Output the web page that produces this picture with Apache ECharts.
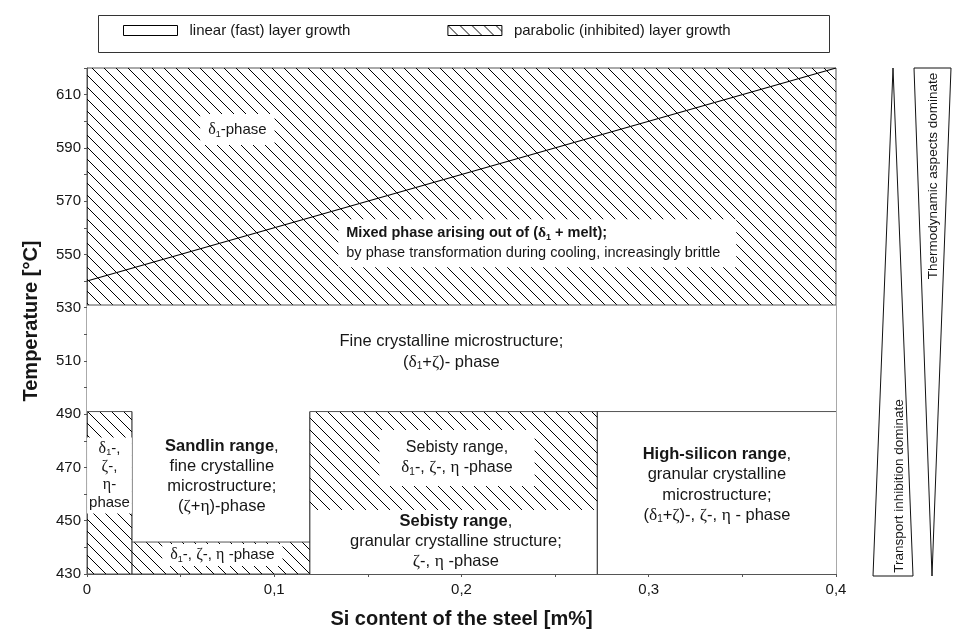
<!DOCTYPE html>
<html>
<head>
<meta charset="utf-8">
<script src="https://cdn.jsdelivr.net/npm/echarts@6/dist/echarts.min.js"></script>
<style>
html,body{margin:0;padding:0;background:#fff}
#chart{width:953px;height:634px}
</style>
</head>
<body>
<div id="chart"></div>
<script>
// ---- data ----
const xTickLabels = ['0', '0,1', '0,2', '0,3', '0,4'];
const yTickLabels = ['430', '450', '470', '490', '510', '530', '550', '570', '590', '610'];

// regions: [Si from, Si to, T from, T to]
const parabolicRegions = [
  [0, 0.4, 531, 620],
  [0, 0.024, 430, 491],
  [0.024, 0.119, 430, 442],
  [0.119, 0.2725, 454, 491]
];
const linearRegions = [
  [0, 0.4, 491, 531],
  [0.024, 0.119, 442, 491],
  [0.119, 0.2725, 430, 454],
  [0.2725, 0.4, 430, 491]
];
// boundary segments: [Si1, T1, Si2, T2]
const boundaries = [
  [0, 531, 0.4, 531],
  [0, 491, 0.024, 491],
  [0.024, 430, 0.024, 491],
  [0.024, 442, 0.119, 442],
  [0.119, 430, 0.119, 491],
  [0.119, 491, 0.4, 491],
  [0.2725, 430, 0.2725, 491]
];
// boundary of the (delta1 + melt) field
const meltLine = [[0, 540], [0.4, 620]];

// region captions anchored in data space
const labelAnchors = [
  [0.0803, 596.9],
  [0.1342, 554.2],
  [0.1946, 513.5],
  [0.012, 467],
  [0.072, 466.5],
  [0.0723, 437.1],
  [0.1976, 473.6],
  [0.197, 442.1],
  [0.3364, 463.5]
];
const labelTexts = [
  '{g|δ}{s|1}-phase',
  '{b|Mixed phase arising out of (}{gb|δ}{sb|1}{b| + melt);}\nby phase transformation during cooling, increasingly brittle',
  'Fine crystalline microstructure;\n({g|δ}{s|1}+{g|ζ})- phase',
  '{g|δ}{s|1}-,\n{g|ζ}-,\n{g|η}-\nphase',
  '{b|Sandlin range},\nfine crystalline\nmicrostructure;\n({g|ζ}+{g|η})-phase',
  '{g|δ}{s|1}-, {g|ζ}-, {g|η} -phase',
  'Sebisty range,\n{g|δ}{s|1}-, {g|ζ}-, {g|η} -phase',
  '{b|Sebisty range},\ngranular crystalline structure;\n{g|ζ}-, {g|η} -phase',
  '{b|High-silicon range},\ngranular crystalline\nmicrostructure;\n({g|δ}{s|1}+{g|ζ})-, {g|ζ}-, {g|η} - phase'
];

// ---- styling ----
const FONT = '"Liberation Sans", Arial, sans-serif';
const SERIF = '"Liberation Serif", "Times New Roman", serif';
const INK = '#161616';

// caption styles: font size, alignment, line height, white backing padding (or null)
const labelStyles = [
  { fs: 15, align: 'center', lh: 18, pad: [7, 8, 6, 8] },
  { fs: 14.5, align: 'left', lh: 20, pad: [4, 16, 4, 8] },
  { fs: 16.5, align: 'center', lh: 21, pad: null },
  { fs: 15, align: 'center', lh: 18, pad: [2, 2, 2, 2] },
  { fs: 16.5, align: 'center', lh: 20, pad: null },
  { fs: 15, align: 'center', lh: 18, pad: [2, 8, 2, 8] },
  { fs: 16, align: 'center', lh: 20, pad: [8, 22, 8, 22] },
  { fs: 16.5, align: 'center', lh: 20, pad: null },
  { fs: 16.5, align: 'center', lh: 20.5, pad: null }
];

function hatchCanvas() {
  const s = 12;
  const c = document.createElement('canvas');
  c.width = s; c.height = s;
  const g = c.getContext('2d');
  g.strokeStyle = '#000';
  g.lineWidth = 1;
  g.beginPath();
  g.moveTo(-2, -2); g.lineTo(s + 2, s + 2);
  g.moveTo(-2, s - 2); g.lineTo(2, s + 2);
  g.moveTo(s - 2, -2); g.lineTo(s + 2, 2);
  g.stroke();
  return c;
}
const hatch = { image: hatchCanvas(), repeat: 'repeat' };

function richFor(fs) {
  return {
    b: { fontFamily: FONT, fontSize: fs, fontWeight: 'bold', fill: INK },
    g: { fontFamily: SERIF, fontSize: fs + 1, fill: INK },
    gb: { fontFamily: SERIF, fontSize: fs + 1, fontWeight: 'bold', fill: INK },
    s: { fontFamily: FONT, fontSize: Math.round(fs * 0.6), fill: INK, padding: [8, 0, 0, 0] },
    sb: { fontFamily: FONT, fontSize: Math.round(fs * 0.6), fontWeight: 'bold', fill: INK, padding: [8, 0, 0, 0] }
  };
}

function rectItem(params, api, fill) {
  const p0 = api.coord([api.value(0), api.value(3)]);
  const p1 = api.coord([api.value(1), api.value(2)]);
  return {
    type: 'rect',
    shape: { x: p0[0], y: p0[1], width: p1[0] - p0[0], height: p1[1] - p0[1] },
    style: { fill: fill, stroke: null }
  };
}

const chart = echarts.init(document.getElementById('chart'), null, { renderer: 'canvas' });

chart.setOption({
  animation: false,
  backgroundColor: '#fff',
  grid: { left: 87, right: 117, top: 68, bottom: 58, show: true, borderColor: '#555', borderWidth: 1, backgroundColor: 'transparent' },
  legend: {
    left: 118, top: 18,
    itemWidth: 54, itemHeight: 10, itemGap: 97,
    icon: 'rect',
    selectedMode: false,
    textStyle: { fontFamily: FONT, fontSize: 15, color: INK, padding: [0, 0, 0, 7] },
    data: [
      { name: 'linear (fast) layer growth', itemStyle: { color: '#fff', borderColor: '#000', borderWidth: 1 } },
      { name: 'parabolic (inhibited) layer growth', itemStyle: { color: hatch, borderColor: '#000', borderWidth: 1 } }
    ]
  },
  xAxis: {
    type: 'value', min: 0, max: 0.4, interval: 0.05,
    name: 'Si content of the steel [m%]',
    nameLocation: 'middle', nameGap: 35,
    nameTextStyle: { fontFamily: FONT, fontSize: 20, fontWeight: 'bold', color: INK },
    axisLine: { show: true, lineStyle: { color: '#555', width: 1 } },
    axisTick: { show: true, length: 3, lineStyle: { color: '#555' } },
    splitLine: { show: false },
    axisLabel: {
      fontFamily: FONT, fontSize: 15, color: INK, margin: 8,
      formatter: v => {
        const k = Math.round(v * 100);
        return k % 10 === 0 ? xTickLabels[k / 10] : '';
      }
    }
  },
  yAxis: {
    type: 'value', min: 430, max: 620, interval: 10,
    name: 'Temperature [°C]',
    nameLocation: 'middle', nameGap: 46,
    nameTextStyle: { fontFamily: FONT, fontSize: 20, fontWeight: 'bold', color: INK },
    axisLine: { show: true, lineStyle: { color: '#555', width: 1 } },
    axisTick: { show: true, length: 3, lineStyle: { color: '#555' } },
    splitLine: { show: false },
    axisLabel: {
      fontFamily: FONT, fontSize: 15, color: INK, margin: 6,
      formatter: v => {
        const k = Math.round(v) - 430;
        return k % 20 === 0 ? (yTickLabels[k / 20] || '') : '';
      }
    }
  },
  series: [
    {
      name: 'linear (fast) layer growth',
      type: 'custom',
      itemStyle: { color: '#fff' },
      data: linearRegions,
      z: 1,
      silent: true,
      renderItem: (params, api) => rectItem(params, api, '#fff')
    },
    {
      name: 'parabolic (inhibited) layer growth',
      type: 'custom',
      itemStyle: { color: hatch },
      data: parabolicRegions,
      z: 2,
      silent: true,
      renderItem: (params, api) => rectItem(params, api, hatch)
    },
    {
      type: 'custom',
      data: boundaries,
      z: 3,
      silent: true,
      renderItem: (params, api) => {
        const a = api.coord([api.value(0), api.value(1)]);
        const b = api.coord([api.value(2), api.value(3)]);
        const horizontal = Math.abs(a[1] - b[1]) < 0.5;
        return {
          type: 'line',
          shape: { x1: a[0], y1: a[1], x2: b[0], y2: b[1] },
          style: { stroke: horizontal ? '#555' : '#111', lineWidth: 1 }
        };
      }
    },
    {
      type: 'line',
      data: meltLine,
      showSymbol: false,
      symbol: 'none',
      z: 4,
      silent: true,
      lineStyle: { color: '#000', width: 1.1 }
    },
    {
      type: 'custom',
      data: labelAnchors,
      z: 10,
      silent: true,
      renderItem: (params, api) => {
        const i = params.dataIndex;
        const p = api.coord([api.value(0), api.value(1)]);
        const st = labelStyles[i];
        const style = {
          text: labelTexts[i],
          rich: richFor(st.fs),
          fontFamily: FONT,
          fontSize: st.fs,
          fill: INK,
          align: st.align,
          verticalAlign: 'middle',
          lineHeight: st.lh
        };
        if (st.pad) {
          style.backgroundColor = '#fff';
          style.padding = st.pad;
        }
        return { type: 'text', x: p[0], y: p[1], style: style };
      }
    }
  ],
  graphic: [
    {
      type: 'rect', left: 96, top: 13, z: -1,
      shape: { x: 0, y: 0, width: 731, height: 37 },
      style: { fill: 'none', stroke: '#333', lineWidth: 1 }
    },
    {
      type: 'polygon', z: 5,
      shape: { points: [[873, 576], [913, 576], [893, 68]] },
      style: { fill: '#fff', stroke: '#111', lineWidth: 1 }
    },
    {
      type: 'polygon', z: 5,
      shape: { points: [[914, 68], [951, 68], [932, 576]] },
      style: { fill: '#fff', stroke: '#111', lineWidth: 1 }
    },
    {
      type: 'text', x: 899, y: 486, rotation: Math.PI / 2, z: 6,
      style: { text: 'Transport inhibition dominate', fontFamily: FONT, fontSize: 13.5, fill: INK, align: 'center', verticalAlign: 'middle' }
    },
    {
      type: 'text', x: 933, y: 176, rotation: Math.PI / 2, z: 6,
      style: { text: 'Thermodynamic aspects dominate', fontFamily: FONT, fontSize: 13.5, fill: INK, align: 'center', verticalAlign: 'middle' }
    }
  ]
});
</script>
</body>
</html>
